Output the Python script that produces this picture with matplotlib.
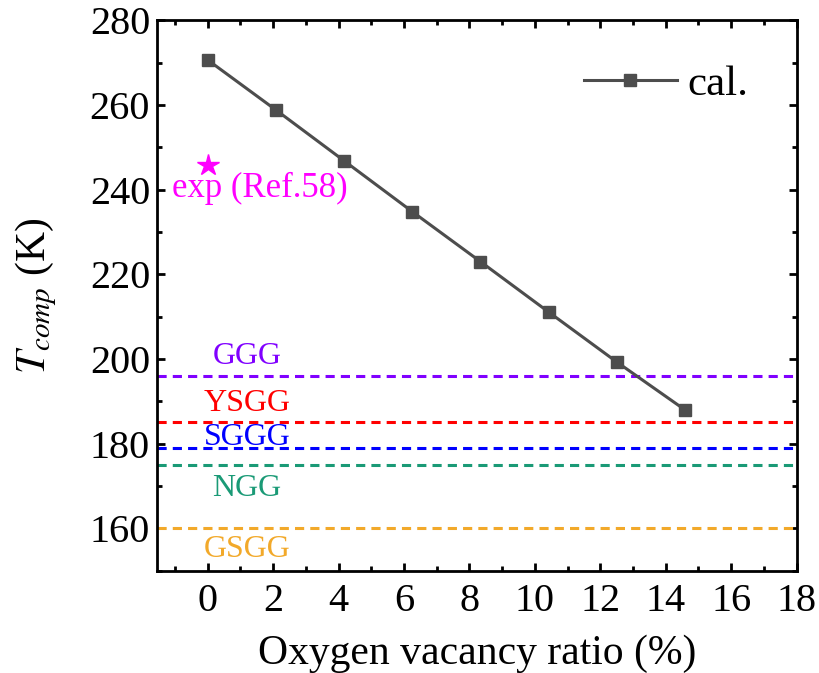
import matplotlib
matplotlib.use("Agg")
import matplotlib.pyplot as plt
from matplotlib.ticker import MultipleLocator

# calculated compensation temperature vs oxygen vacancy ratio
vacancy = [0.0, 2.083, 4.167, 6.25, 8.333, 10.417, 12.5, 14.583]
t_comp = [270.6, 258.8, 246.8, 234.8, 223.0, 211.1, 199.3, 188.0]

# experimental point
exp_x = 0.0
exp_y = 245.8

# reference garnets
garnets = ['GGG', 'YSGG', 'SGGG', 'NGG', 'GSGG']
garnet_t = [196.0, 185.0, 179.0, 175.0, 160.0]
garnet_label_y = [200.5, 189.5, 181.5, 169.5, 155.0]
garnet_colors = ['#8000FF', '#FF0000', '#0000FF', '#1A9A76', '#F2A92A']

plt.rcParams['font.family'] = ['Liberation Serif', 'DejaVu Serif']
plt.rcParams['mathtext.fontset'] = 'stix'

fig = plt.figure(figsize=(8.2, 6.73), dpi=100)
ax = fig.add_axes([0.1915, 0.152, 0.78, 0.818])

for name, t, ly, c in zip(garnets, garnet_t, garnet_label_y, garnet_colors):
    ax.axhline(t, color=c, ls=(0, (3, 2)), lw=2.2)
    ax.text(1.2, ly, name, color=c, fontsize=23, ha='center', va='center')

ax.plot(vacancy, t_comp, color='#4D4D4D', lw=2.2, marker='s', ms=8, label='cal.')

ax.plot(exp_x, exp_y, marker='*', color='#FF00FF', ms=16, ls='none')
ax.text(1.6, 240.2, 'exp (Ref.58)', color='#FF00FF', fontsize=25, ha='center', va='center')

ax.set_xlim(-1.55, 18)
ax.set_ylim(150, 280)
ax.xaxis.set_major_locator(MultipleLocator(2))
ax.xaxis.set_minor_locator(MultipleLocator(1))
ax.yaxis.set_major_locator(MultipleLocator(20))
ax.yaxis.set_minor_locator(MultipleLocator(10))
ax.tick_params(which='both', direction='in', top=True, right=True, width=2)
ax.tick_params(which='major', length=6, labelsize=29, pad=5)
ax.tick_params(axis='x', which='major', pad=9)
ax.tick_params(which='minor', length=3.5)
for s in ax.spines.values():
    s.set_linewidth(2)

ax.set_xlabel('Oxygen vacancy ratio (%)', fontsize=30, labelpad=10)
ax.set_ylabel(r'$T_{comp}$ (K)', fontsize=30, labelpad=22)

ax.legend(loc='upper right', frameon=False, fontsize=31, handlelength=2.15,
          handletextpad=0.25, bbox_to_anchor=(0.985, 0.99))

fig.savefig('out.png', dpi=100)
